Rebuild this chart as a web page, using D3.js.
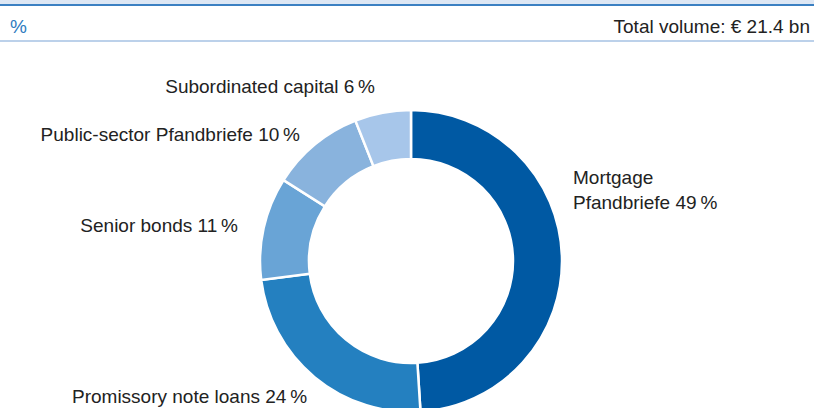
<!DOCTYPE html>
<html>
<head>
<meta charset="utf-8">
<script src="https://cdn.jsdelivr.net/npm/d3@7"></script>
<style>
  body { margin: 0; background: #fff; }
  svg text { font-family: "Liberation Sans", Arial, sans-serif; }
</style>
</head>
<body>
<script>
// funding mix donut
var categories = [
  "Mortgage Pfandbriefe",
  "Promissory note loans",
  "Senior bonds",
  "Public-sector Pfandbriefe",
  "Subordinated capital"
];
var shares = [49, 24, 11, 10, 6];
var colours = ["#0059a3", "#2480c0", "#69a4d6", "#89b3dd", "#a7c6ea"];
var unitLabel = "%";
var totalLabel = "Total volume: \u20ac 21.4 bn";

var W = 814, H = 408;
var svg = d3.select("body").append("svg")
  .attr("width", W)
  .attr("height", H);

// header bands
svg.append("rect").attr("x", 0).attr("y", 0).attr("width", W).attr("height", 4).attr("fill", "#dde7f4");
svg.append("rect").attr("x", 0).attr("y", 4).attr("width", W).attr("height", 2).attr("fill", "#3b80c2");
svg.append("rect").attr("x", 0).attr("y", 40).attr("width", W).attr("height", 2).attr("fill", "#bcd1ea");

svg.append("text").attr("x", 10).attr("y", 33)
  .attr("font-size", 19).attr("fill", "#2e7bc0").text(unitLabel);
svg.append("text").attr("x", 810).attr("y", 33)
  .attr("text-anchor", "end").attr("font-size", 19).attr("fill", "#222").text(totalLabel);

// donut
var cx = 411, cy = 261, rOut = 151, rIn = 102;
var pie = d3.pie().sort(null).value(function (d) { return d; });
var arc = d3.arc().innerRadius(rIn).outerRadius(rOut);
var colour = d3.scaleOrdinal().domain(categories).range(colours);

var g = svg.append("g").attr("transform", "translate(" + cx + "," + cy + ")");
var arcs = pie(shares);
g.selectAll("path.slice")
  .data(arcs)
  .enter().append("path")
  .attr("class", "slice")
  .attr("d", arc)
  .attr("fill", function (d, i) { return colour(categories[i]); })
  .attr("stroke", "#fff")
  .attr("stroke-width", 2.5);

// labels, placed by hand next to the ring
var labelSpots = [
  { x: 573, y: 184, anchor: "start", lines: ["Mortgage", "Pfandbriefe"] },
  { x: 72, y: 403, anchor: "start" },
  { x: 238, y: 232, anchor: "end" },
  { x: 300, y: 141, anchor: "end" },
  { x: 375, y: 93, anchor: "end" }
];

labelSpots.forEach(function (s, i) {
  var t = svg.append("text")
    .attr("x", s.x).attr("y", s.y)
    .attr("text-anchor", s.anchor)
    .attr("font-size", 19)
    .attr("fill", "#222");
  var pct = shares[i] + "\u202f%";
  if (s.lines) {
    t.append("tspan").attr("x", s.x).attr("dy", 0).text(s.lines[0]);
    t.append("tspan").attr("x", s.x).attr("dy", 25).text(s.lines[1] + " " + pct);
  } else {
    t.text(categories[i] + " " + pct);
  }
});
</script>
</body>
</html>
